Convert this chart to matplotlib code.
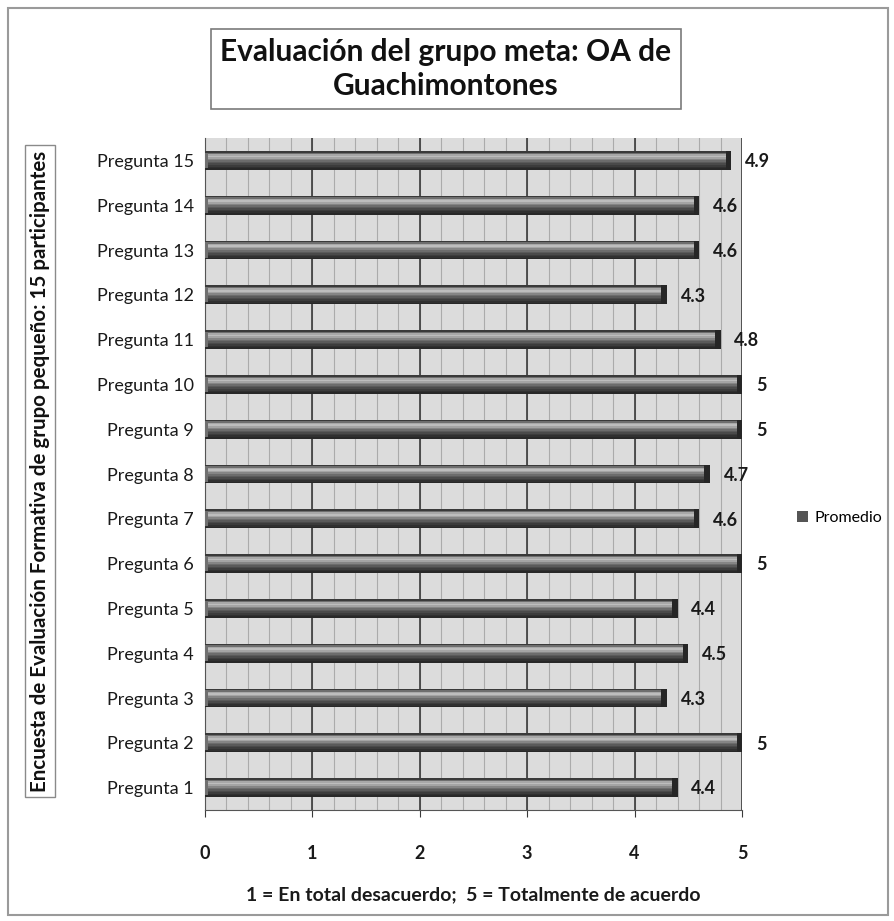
import matplotlib
matplotlib.use("Agg")
import matplotlib.pyplot as plt
from matplotlib.patches import Rectangle
import numpy as np

plt.rcParams['font.family'] = ['Lato', 'DejaVu Sans']

# Data
questions = [f"Pregunta {i}" for i in range(1, 16)]
promedio = [4.4, 5, 4.3, 4.5, 4.4, 5, 4.6, 4.7, 5, 5, 4.8, 4.3, 4.6, 4.6, 4.9]
x_ticks = [0, 1, 2, 3, 4, 5]
title = "Evaluación del grupo meta: OA de\nGuachimontones"
y_title = "Encuesta de Evaluación Formativa de grupo pequeño: 15 participantes"
x_title = "1 = En total desacuerdo;  5 = Totalmente de acuerdo"
series_name = "Promedio"

W, H = 895, 921
fig = plt.figure(figsize=(W / 100, H / 100), dpi=100)
fig.patch.set_facecolor("white")

# outer chart frame
fig.add_artist(Rectangle((8 / W, 1 - 915 / H), 880 / W, 907 / H, transform=fig.transFigure,
                         fill=False, edgecolor="#9a9a9a", linewidth=1.5))

left, right, top, bottom = 205, 742, 138, 810
ax = fig.add_axes([left / W, 1 - bottom / H, (right - left) / W, (bottom - top) / H])
ax.set_facecolor("#dcdcdc")

ypos = np.arange(len(questions))
ax.set_xlim(0, 5)
ax.set_ylim(-0.5, len(questions) - 0.5)

# grid: minor every 0.2, major every 1
for xv in np.arange(0, 5.001, 0.2):
    ax.axvline(xv, color="#ababab", linewidth=0.8, zorder=1)
for xv in x_ticks:
    ax.axvline(xv, color="#3a3a3a", linewidth=1.2, zorder=1.5)

# cylinder-like bars built from stacked horizontal strips
bar_h = 0.42
profile = ["#3a3a3a", "#6e6e6e", "#a8a8a8", "#bdbdbd", "#a4a4a4", "#858585",
           "#6c6c6c", "#5a5a5a", "#4a4a4a", "#3c3c3c", "#303030", "#282828"]
n = len(profile)
strip = bar_h / n
for k, col in enumerate(profile):
    off = bar_h / 2 - strip * (k + 0.5)
    ax.barh(ypos + off, promedio, height=strip * 1.05, color=col, linewidth=0, zorder=3)
# darker end caps
cap = 0.05
ax.barh(ypos, [cap] * len(promedio), left=[v - cap for v in promedio], height=bar_h,
        color="#262626", linewidth=0, zorder=4)
ax.barh(ypos, [0.03] * len(promedio), left=0, height=bar_h * 0.8, color="#707070",
        linewidth=0, zorder=4)
# legend proxy
ax.barh([0], [0], height=bar_h, color="#555555", label=series_name)

# value labels
for y, v in zip(ypos, promedio):
    ax.annotate(f"{v:g}", xy=(v, y), xytext=(10, -1), textcoords="offset points",
                va="center", ha="left", fontsize=13, fontweight="bold", color="#1a1a1a")

ax.set_yticks(ypos)
ax.set_yticklabels(questions, fontsize=13, color="#1a1a1a")
ax.set_xticks(x_ticks)
ax.set_xticklabels([str(t) for t in x_ticks], fontsize=13, fontweight="bold", color="#1a1a1a")
ax.tick_params(axis="y", length=0, pad=8)
ax.tick_params(axis="x", length=5, pad=20, color="#3a3a3a")
for s in ["top", "right"]:
    ax.spines[s].set_visible(False)
ax.spines["left"].set_color("#555555")
ax.spines["bottom"].set_color("#555555")

ax.set_xlabel(x_title, fontsize=14, fontweight="bold", labelpad=18, color="#1a1a1a")

# title box
fig.text(446 / W, 1 - 69 / H, title, ha="center", va="center", fontsize=21.5,
         fontweight="bold", color="#111111", linespacing=1.3,
         bbox=dict(boxstyle="square,pad=0.3", facecolor="white", edgecolor="#7a7a7a", linewidth=1.2))

# vertical axis title box
fig.text(40 / W, 1 - 471 / H, y_title, rotation=90, ha="center", va="center",
         fontsize=14.8, fontweight="bold", color="#111111",
         bbox=dict(boxstyle="square,pad=0.25", facecolor="white", edgecolor="#8a8a8a", linewidth=1))

leg = ax.legend(loc="center left", bbox_to_anchor=(1.075, 0.435), frameon=False,
                fontsize=11.5, handlelength=0.7, handleheight=0.7, handletextpad=0.4)

fig.savefig("out.png", dpi=100)
